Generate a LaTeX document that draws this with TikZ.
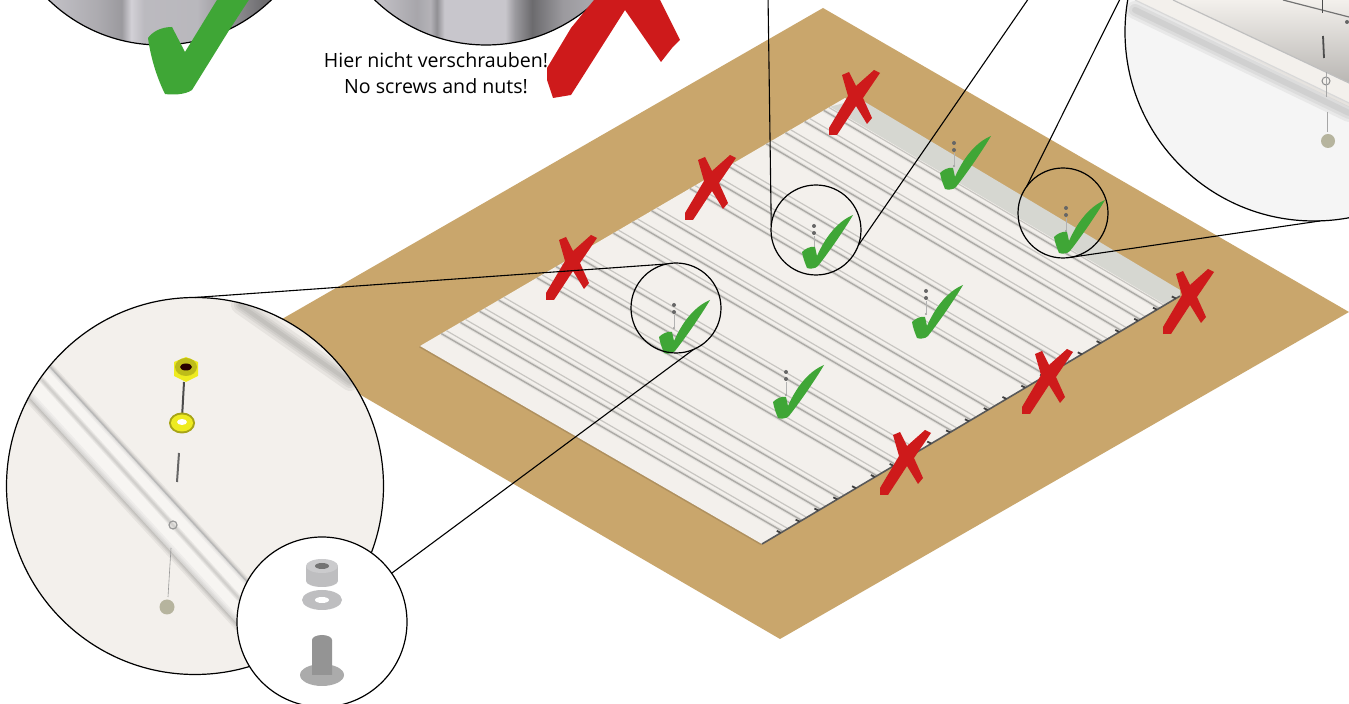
\documentclass[tikz,border=0pt]{standalone}
\usepackage{fontspec}
\setmainfont{Open Sans}
\usepackage{xcolor}
\usetikzlibrary{calc,shadings}
\definecolor{figboard}{RGB}{201,166,108}
\definecolor{figpanel}{RGB}{243,240,236}
\definecolor{figrib}{RGB}{172,170,166}
\definecolor{figband}{RGB}{214,215,209}
\definecolor{figok}{RGB}{63,166,54}
\definecolor{figno}{RGB}{206,26,27}
\definecolor{fignut}{RGB}{238,235,32}
\definecolor{figball}{RGB}{182,180,158}
\definecolor{figsteel}{RGB}{190,190,192}
\definecolor{figtint}{RGB}{250,248,255}
\pgfdeclarehorizontalshading{diskleft}{100bp}{
  color(0bp)=(figtint!74!black); color(32.5bp)=(figtint!78!black); color(40.2bp)=(figtint!69!black);
  color(44bp)=(figtint!62!black); color(45.5bp)=(figtint!84!black); color(47.5bp)=(figtint!75!black);
  color(55.8bp)=(figtint!74!black); color(62bp)=(figtint!56!black); color(66.1bp)=(figtint!44!black);
  color(100bp)=(figtint!44!black)}
\pgfdeclarehorizontalshading{diskright}{100bp}{
  color(0bp)=(figtint!77!black); color(33.4bp)=(figtint!77!black); color(39.2bp)=(figtint!67!black);
  color(41.3bp)=(figtint!72!black); color(42.3bp)=(figtint!58!black); color(43.5bp)=(figtint!80!black);
  color(53bp)=(figtint!80!black); color(54.5bp)=(figtint!62!black); color(57.2bp)=(figtint!43!black);
  color(62bp)=(figtint!62!black); color(65.8bp)=(figtint!67!black); color(100bp)=(figtint!67!black)}
\tikzset{
  lens/.style    ={circle, draw=black, line width=0.6pt, inner sep=0pt, outer sep=0pt},
  lead/.style    ={draw=black, line width=0.55pt},
  rib/.style     ={draw=figrib, line width=0.7pt},
  ribs/.style    ={draw=figrib!60!figpanel, line width=0.6pt},
  ribw/.style    ={draw=figrib, line width=1.8pt, opacity=0.2},
  soft/.style    ={draw=black, opacity=0.05, line cap=round},
  note/.style    ={font=\fontsize{9.8}{13}\selectfont, align=center, inner sep=0pt},
  okmark/.pic={
    \fill[figok] (0,0) .. controls (3,-3) and (8,-6) .. (13,-5) -- (15,4)
      .. controls (22,-12) and (34,-30) .. (51,-37)
      .. controls (44,-25) and (30,-4) .. (16,14) .. controls (13,17) and (8,17) .. (5,16)
      .. controls (3,11) and (1,6) .. (0,0) -- cycle;
  },
  nomark/.pic={
    \fill[figno] (-14,-23) -- (-7,-26) -- (0,-12) -- (18,-28) -- (24,-25) -- (7,0) -- (16,20)
      -- (11,26) -- (0,8) -- (-19,37) -- (-27,37) -- (-27,30) -- (-8,-2) -- cycle;
  },
  pin/.pic={
    \fill[black!60] (0,0) circle[radius=2];
    \fill[black!60] (0,7) circle[radius=2];
    \draw[black!30,line width=0.3pt] (0,10) -- (0,22);
    \fill[black!40] (0,23) circle[radius=1.2];
  },
}
\begin{document}
\begin{tikzpicture}[x=0.5pt,y=-0.5pt]
  \clip (0,0) rectangle (1349,704);
  \fill[white] (0,0) rectangle (1349,704);
  \fill[figboard] (823,8) -- (1349,312) -- (780,639) -- (256,334) -- cycle;
  \coordinate (pL) at (420,346);
  \coordinate (pT) at (845,98);
  \coordinate (pR) at (1180,296);
  \coordinate (pB) at (762,544);
  \draw[figboard!75!black,line width=1.6pt,opacity=0.5] (pL) -- (pB);
  \fill[figpanel] (pL) -- (pT) -- (pR) -- (pB) -- cycle;
  \fill[figband] ($(pL)!0.965!(pT)$) -- (860,99) -- (1180,290) -- (pR) -- ($(pB)!0.965!(pR)$) -- cycle;
  \foreach \t in {0.05,0.095,0.14,0.185,0.275,0.32,0.365,0.455,0.50,0.545,0.635,0.68,0.725,0.815,0.86,0.905,0.95}{
    \draw[ribw] ($(pL)!\t!(pT)$) -- ($(pB)!\t!(pR)$);
    \draw[rib] ($(pL)!\t!(pT)$) -- ($(pB)!\t!(pR)$);
    \draw[ribs] ($(pL)!\t+0.012!(pT)$) -- ($(pB)!\t+0.012!(pR)$);
  }
  \draw[black!65,line width=0.8pt] (pB) -- (pR);
  \foreach \t in {0.045,0.09,...,0.99}{
    \draw[black!75,line width=0.9pt] ($(pB)!\t!(pR)$) -- ++(-4,-2);
  }
  \path (674,305) pic {pin};
  \path (814,226) pic {pin};
  \path (786,372) pic {pin};
  \path (926,291) pic {pin};
  \path (954,143) pic {pin};
  \path (1066,208) pic {pin};
  \path (573,263) pic {nomark};
  \path (712,183) pic {nomark};
  \path (856,98) pic {nomark};
  \path (907,458) pic {nomark};
  \path (1049,377) pic {nomark};
  \path (1190,297) pic {nomark};
  \path (659,337) pic {okmark};
  \path (802,252) pic {okmark};
  \path (1054,237) pic {okmark};
  \path (773,402) pic {okmark};
  \path (912,322) pic {okmark};
  \path (940,173) pic {okmark};
  \node[lens,minimum size=45pt] (spotA) at (676,308) {};
  \node[lens,minimum size=45pt] (spotB) at (816,230) {};
  \node[lens,minimum size=45pt] (spotC) at (1063,213) {};

  \begin{scope}
  \clip (195,486) circle[radius=188.5];
  \fill[figpanel] (195,486) circle[radius=188.5];
  \foreach \w in {2,4,6,9}{
    \draw[soft,line width=\w pt] (240,305) -- (350,382);
    \draw[soft,line width=0.6*\w pt] (30,398) -- (245,632);
    \draw[soft,line width=0.4*\w pt] (50,367) -- (250,585);
  }
  \fill[white,opacity=0.35] (50,367) -- (250,585) -- (245,632) -- (30,398) -- cycle;
  \draw[black!28,line width=0.6pt] (50,367) -- (250,585);
  \foreach \w in {1,2,3}{
    \draw[soft,line width=\w pt] (42,380) -- (245,605);
  }
  \fill[fignut] (174,362) -- (186,357) -- (198,362) -- (198,376) -- (186,382) -- (174,376) -- cycle;
  \fill[fignut!80!black] (186,367) ellipse[x radius=11,y radius=9];
  \fill[black!85!red] (186,367) ellipse[x radius=6,y radius=3.5];
  \draw[black!70,line width=1pt] (184,382) -- (182,418);
  \fill[fignut!70!black] (182,423) ellipse[x radius=13,y radius=10.5];
  \fill[fignut] (182,423) ellipse[x radius=11,y radius=8.5];
  \fill[white] (182,422) ellipse[x radius=5,y radius=3];
  \draw[black!60,line width=1pt] (179,453) -- (177,482);
  \draw[black!40,line width=0.6pt] (173,525) circle[radius=4];
  \draw[black!40,line width=0.3pt] (171,548) -- (168,597);
  \fill[figball] (167,607) circle[radius=7.5];
  \end{scope}
  \node[lens,minimum size=188.5pt] (zoomA) at (195,486) {};

  \begin{scope}
  \clip (1314,32) circle[radius=189];
  \fill[white!96!black] (1314,32) circle[radius=189];
  \shade[top color=figpanel,bottom color=black!24!figpanel] (1173,0) -- (1349,0) -- (1349,83) -- cycle;
  \fill[figpanel] (1135,0) -- (1173,0) -- (1349,83) -- (1349,107) -- cycle;
  \foreach \w in {3,6,9}{
    \draw[soft,line width=\w pt] (1135,10) -- (1349,113);
  }
  \draw[black!25,line width=0.6pt] (1173,0) -- (1349,83);
  \draw[black!15,line width=0.6pt] (1135,0) -- (1349,103);
  \draw[black!55,line width=0.6pt] (1283,0) -- (1349,17);
  \draw[black!70,line width=0.5pt] (1322,0) -- (1322,13);
  \draw[black!70,line width=0.9pt] (1323,36) -- (1324,58);
  \fill[black!60] (1347,22) circle[radius=2];
  \draw[black!45,line width=0.5pt] (1326,81) circle[radius=4];
  \draw[black!35,line width=0.3pt] (1326,72) -- (1326,97);
  \draw[black!35,line width=0.3pt] (1327,112) -- (1327,132);
  \fill[figball] (1328,141) circle[radius=7];
  \end{scope}
  \node[lens,minimum size=189pt] (zoomC) at (1314,32) {};

  \begin{scope}
  \clip (322,622) circle[radius=85];
  \fill[white] (322,622) circle[radius=85];
  \fill[figsteel] (306,566) rectangle (338,581);
  \fill[figsteel] (322,581) ellipse[x radius=16,y radius=6];
  \fill[figsteel!80!white] (322,566) ellipse[x radius=16,y radius=7];
  \fill[black!55] (322,566) ellipse[x radius=7,y radius=3];
  \fill[figsteel] (322,600) ellipse[x radius=20,y radius=10];
  \fill[white] (322,600) ellipse[x radius=7,y radius=3];
  \fill[black!33] (322,675) ellipse[x radius=22,y radius=11];
  \fill[black!42] (312,640) arc[start angle=180,end angle=360,x radius=10,y radius=5] -- (332,675) -- (312,675) -- cycle;
  \end{scope}
  \node[lens,minimum size=85pt] (zoomB) at (322,622) {};

  \coordinate (endB) at (768,-5);
  \coordinate (endC) at (1031,-5);
  \coordinate (endD) at (1122,-5);
  \draw[lead] (spotA.102) -- (zoomA.90);
  \draw[lead] (spotA.-67) -- (zoomB.35);
  \draw[lead] (spotB.174) -- (endB);
  \draw[lead] (spotB.-20) -- (endC);
  \draw[lead] (spotC.144) -- (endD);
  \draw[lead] (spotC.-80) -- (zoomC.-88);

  \node[lens,minimum size=160pt,shading=diskleft] (diskA) at (160,-115) {};
  \node[lens,minimum size=160pt,shading=diskright] (diskB) at (486,-115) {};
  \fill[figok] (148,38) .. controls (153,31) and (162,27) .. (172,27) -- (185,52)
    -- (220,-5) -- (252,-5) -- (228,32) -- (192,90) .. controls (185,95) and (172,95) .. (165,94)
    .. controls (158,80) and (151,60) .. (148,38) -- cycle;
  \fill[figno] (547,68) -- (571,28) -- (594,0) -- (660,0) -- (680,40) -- (672,48) -- (661,62)
    -- (625,10) -- (571,95) -- (553,98) -- (547,80) -- cycle;
  \node[note] (noteText) at (436,73) {Hier nicht verschrauben!\\No screws and nuts!};
\end{tikzpicture}
\end{document}
